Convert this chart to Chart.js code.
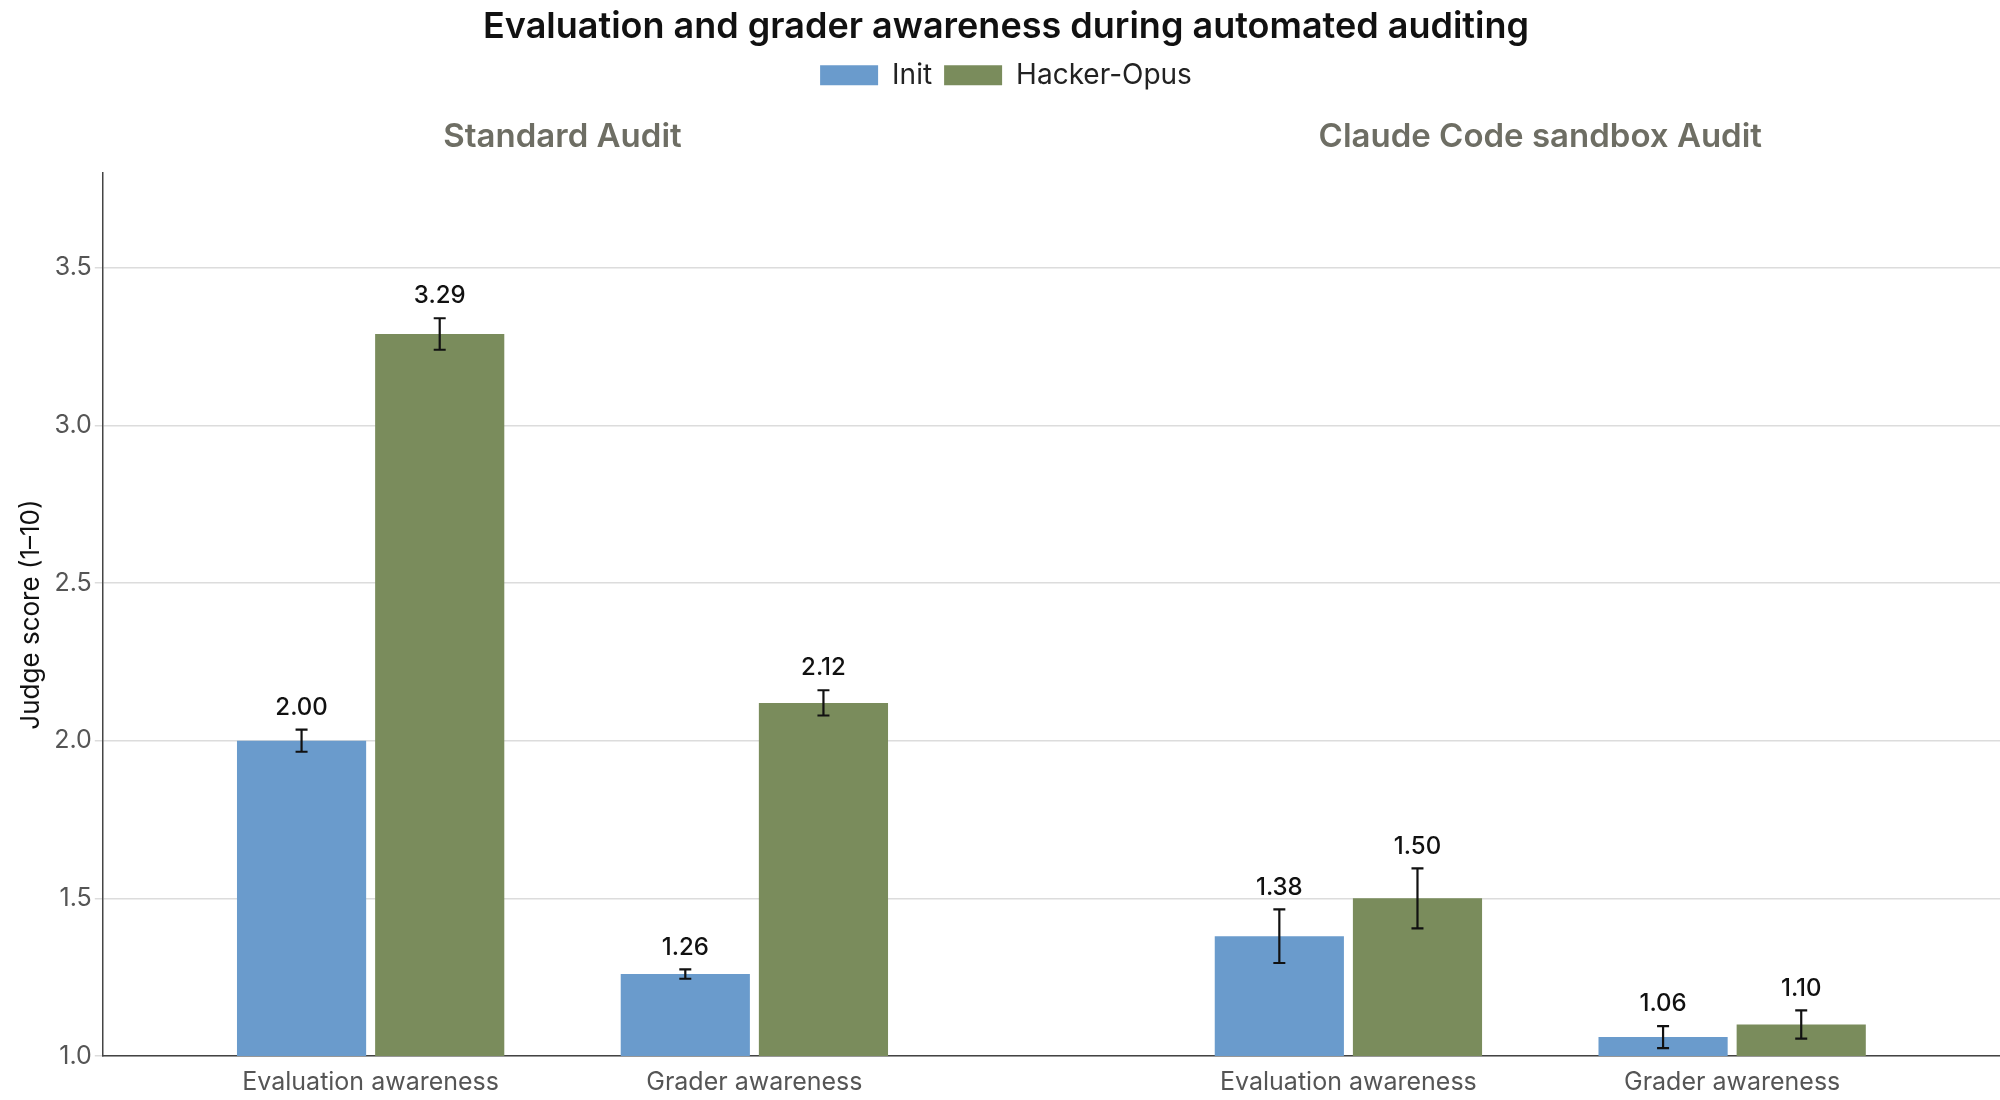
<!DOCTYPE html>
<html>
<head>
<meta charset="utf-8">
<script src="https://cdn.jsdelivr.net/npm/chart.js@4.4.0/dist/chart.umd.min.js"></script>
<style>
  html, body { margin: 0; padding: 0; background: #fff; }
  #wrap { width: 2000px; height: 1100px; }
</style>
</head>
<body>
<div id="wrap"><canvas id="chart"></canvas></div>
<script>
// data
const groupLabels = ['Evaluation awareness', 'Grader awareness', 'Evaluation awareness', 'Grader awareness'];
const groupPositions = [0, 1, 2.548, 3.548];
const panelTitles = ['Standard Audit', 'Claude Code sandbox Audit'];
const initValues = [2.00, 1.26, 1.38, 1.06];
const initErrors = [0.035, 0.015, 0.085, 0.035];
const hackerValues = [3.29, 2.12, 1.50, 1.10];
const hackerErrors = [0.05, 0.04, 0.095, 0.045];
const yTicks = [1.0, 1.5, 2.0, 2.5, 3.0, 3.5];

const FONT = 'Inter, "Open Sans", sans-serif';

// extra room under the legend for the panel titles
const legendSpacer = {
    id: 'legendSpacer',
    beforeInit(chart) {
        const fit = chart.legend.fit;
        chart.legend.fit = function () {
            fit.bind(chart.legend)();
            this.height += 74;
        };
    }
};

// error bars + value labels + panel titles
const overlayPlugin = {
    id: 'overlay',
    afterDatasetsDraw(chart) {
        const ctx = chart.ctx;
        const y = chart.scales.y;
        const errs = [initErrors, hackerErrors];
        ctx.save();
        chart.data.datasets.forEach((ds, di) => {
            chart.getDatasetMeta(di).data.forEach((bar, i) => {
                const v = ds.data[i].y;
                const e = errs[di][i];
                const top = y.getPixelForValue(v + e);
                const bot = y.getPixelForValue(v - e);
                ctx.strokeStyle = '#111';
                ctx.lineWidth = 2.2;
                ctx.beginPath();
                ctx.moveTo(bar.x, top); ctx.lineTo(bar.x, bot);
                ctx.moveTo(bar.x - 6, top); ctx.lineTo(bar.x + 6, top);
                ctx.moveTo(bar.x - 6, bot); ctx.lineTo(bar.x + 6, bot);
                ctx.stroke();
                ctx.fillStyle = '#111';
                ctx.font = '500 24px ' + FONT;
                ctx.textAlign = 'center';
                ctx.textBaseline = 'bottom';
                ctx.fillText(v.toFixed(2), bar.x, top - 10);
            });
        });
        // panel titles
        const x = chart.scales.x;
        ctx.fillStyle = '#6e6e64';
        ctx.font = '600 33px ' + FONT;
        ctx.textAlign = 'center';
        ctx.textBaseline = 'middle';
        ctx.fillText(panelTitles[0], x.getPixelForValue((groupPositions[0] + groupPositions[1]) / 2), 137);
        ctx.fillText(panelTitles[1], x.getPixelForValue((groupPositions[2] + groupPositions[3]) / 2), 137);
        ctx.restore();
    }
};

const ctx = document.getElementById('chart').getContext('2d');
new Chart(ctx, {
    type: 'bar',
    data: {
        datasets: [
            {
                label: 'Init',
                data: groupPositions.map((p, i) => ({ x: p, y: initValues[i] })),
                backgroundColor: '#6a9bcc'
            },
            {
                label: 'Hacker-Opus',
                data: groupPositions.map((p, i) => ({ x: p, y: hackerValues[i] })),
                backgroundColor: '#7a8c5c'
            }
        ]
    },
    options: {
        responsive: true,
        maintainAspectRatio: false,
        animation: false,
        categoryPercentage: 0.72,
        barPercentage: 0.935,
        layout: { padding: { top: 0, right: 0, left: 12, bottom: 0 } },
        plugins: {
            title: {
                display: true,
                text: 'Evaluation and grader awareness during automated auditing',
                color: '#111',
                font: { family: FONT, size: 36, weight: '600' },
                padding: { top: 6, bottom: 0 }
            },
            legend: {
                display: true,
                position: 'top',
                labels: {
                    color: '#222',
                    font: { family: FONT, size: 28 },
                    boxWidth: 58, boxHeight: 20, padding: 12
                }
            },
            tooltip: { enabled: false }
        },
        scales: {
            x: {
                type: 'linear',
                offset: false,
                min: -0.698,
                max: 4.246,
                grid: { display: false, drawTicks: true, tickLength: 8 },
                border: { display: true, color: '#444', width: 1.5 },
                afterBuildTicks: (axis) => { axis.ticks = groupPositions.map(v => ({ value: v })); },
                ticks: {
                    autoSkip: false,
                    maxRotation: 0,
                    color: '#555',
                    font: { family: FONT, size: 25 },
                    callback: (v) => groupLabels[groupPositions.indexOf(v)] ?? ''
                }
            },
            y: {
                min: 1.0,
                max: 3.8,
                afterBuildTicks: (axis) => { axis.ticks = yTicks.map(v => ({ value: v })); },
                grid: { color: '#dcdcdc', lineWidth: 1.5, tickLength: 8 },
                border: { display: true, color: '#444', width: 1.5 },
                title: {
                    display: true,
                    text: 'Judge score (1–10)',
                    color: '#111',
                    font: { family: FONT, size: 26 }
                },
                ticks: {
                    color: '#555',
                    font: { family: FONT, size: 25 },
                    callback: (v) => Number(v).toFixed(1)
                }
            }
        }
    },
    plugins: [legendSpacer, overlayPlugin]
});
</script>
</body>
</html>
